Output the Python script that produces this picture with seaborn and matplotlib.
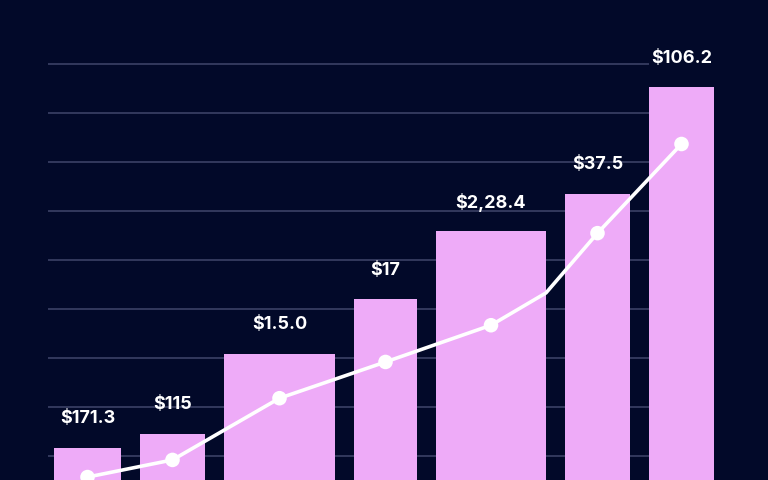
import numpy as np
import pandas as pd
import seaborn as sns
import matplotlib.pyplot as plt

# Data
labels = ['$171.3', '$115', '$1.5.0', '$17', '$2,28.4', '$37.5', '$106.2']
bar_values = [6.5, 9.4, 25.7, 36.9, 50.8, 58.4, 80.2]
line_values = [0.6, 4.1, 16.7, 24.1, 31.6, 50.4, 68.6]
kink_value = 38.2  # bend in the line at the right edge of bar 5 (no marker)

# Layout / style
bar_widths = [67, 65, 111, 63, 110, 65, 65]
gap = 19
left = 54
bg = '#020929'
bar_color = '#eeabf8'
grid_color = '#3b4166'

# bar edges computed from widths
lefts = []
x = left
for w in bar_widths:
    lefts.append(x)
    x += w + gap
centers = [l + w / 2 for l, w in zip(lefts, bar_widths)]

sns.set_theme(style='dark')
plt.rcParams['font.family'] = ['Inter', 'DejaVu Sans']

fig = plt.figure(figsize=(7.68, 4.8), dpi=100, facecolor=bg)
ax = fig.add_axes([0, 0, 1, 1])
ax.set_facecolor(bg)
ax.set_xlim(0, 768)
ax.set_ylim(0, 98)

# gridlines behind the bars, stopping at the last bar
for g in np.arange(5, 90, 10):
    ax.hlines(g, 48, lefts[-1], color=grid_color, linewidth=1.2, zorder=0)

df = pd.DataFrame({'x': centers, 'value': bar_values})
sns.barplot(data=df, x='x', y='value', native_scale=True, color=bar_color,
            saturation=1, ax=ax, zorder=2)
for patch, l, w in zip(ax.patches, lefts, bar_widths):
    patch.set_x(l)
    patch.set_width(w)
    patch.set_edgecolor('none')

for c, v, t in zip(centers, bar_values, labels):
    ax.annotate(t, (c, v), xytext=(0, 21), textcoords='offset points',
                ha='center', va='center', color='white', fontsize=13,
                fontweight='bold', zorder=5)

# line with an unmarked bend after bar 5
line_x = centers[:5] + [lefts[4] + bar_widths[4]] + centers[5:]
line_y = line_values[:5] + [kink_value] + line_values[5:]
line_df = pd.DataFrame({'x': line_x, 'y': line_y})
sns.lineplot(data=line_df, x='x', y='y', sort=False, color='white',
             linewidth=2.6, ax=ax, zorder=3)
pts = pd.DataFrame({'x': centers, 'y': line_values})
sns.scatterplot(data=pts, x='x', y='y', color='white', s=110,
                edgecolor='none', ax=ax, zorder=4, clip_on=False)

ax.set_xlabel('')
ax.set_ylabel('')
ax.set_xticks([])
ax.set_yticks([])
ax.grid(False)
for s in ax.spines.values():
    s.set_visible(False)

fig.savefig('out.png', dpi=100, facecolor=bg)
